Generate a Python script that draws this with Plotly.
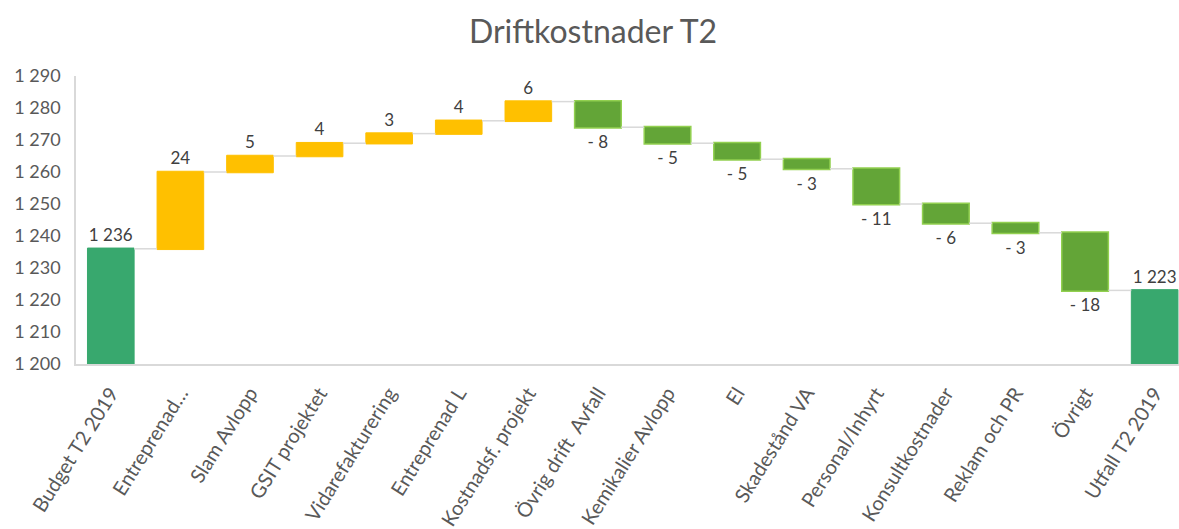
import plotly.graph_objects as go

categories = ["Budget T2 2019", "Entreprenad…", "Slam Avlopp", "GSIT projektet",
              "Vidarefakturering", "Entreprenad L", "Kostnadsf. projekt",
              "Övrig drift\u00a0 Avfall", "Kemikalier Avlopp", "El", "Skadestånd VA",
              "Personal/Inhyrt", "Konsultkostnader", "Reklam och PR", "Övrigt",
              "Utfall T2 2019"]
values = [1236, 24, 5, 4, 3, 4, 6, -8, -5, -5, -3, -11, -6, -3, -18, 1223]
measures = ["absolute"] + ["relative"] * 14 + ["total"]
labels = ["1 236", "24", "5", "4", "3", "4", "6", "- 8", "- 5", "- 5", "- 3",
          "- 11", "- 6", "- 3", "- 18", "1 223"]
y_ticks = list(range(1200, 1291, 10))

FONT = "Lato, 'Open Sans', sans-serif"

fig = go.Figure(go.Waterfall(
    x=categories,
    y=values,
    measure=measures,
    text=labels,
    textposition="outside",
    textfont=dict(family=FONT, size=17, color="#404040"),
    cliponaxis=False,
    increasing=dict(marker=dict(color="#FFC000", line=dict(color="#FFC000", width=1))),
    decreasing=dict(marker=dict(color="#63A537", line=dict(color="#92D050", width=1.5))),
    totals=dict(marker=dict(color="#38A86E", line=dict(color="#38A86E", width=1))),
    connector=dict(line=dict(color="#D9D9D9", width=1.5)),
    hoverinfo="x+y",
))

fig.update_layout(
    width=1179, height=529,
    margin=dict(l=76, r=0, t=76, b=165, autoexpand=False),
    paper_bgcolor="white", plot_bgcolor="white",
    separators=", ",
    waterfallgap=0.33,
    showlegend=False,
    title=dict(text="Driftkostnader T2", x=0.503, xanchor="center", y=0.94, yanchor="middle",
               font=dict(family=FONT, size=32, color="#595959")),
    font=dict(family=FONT, color="#595959"),
)
fig.update_xaxes(
    range=[-0.5, 15.35],
    tickangle=-58,
    tickfont=dict(family=FONT, size=20, color="#595959"),
    showline=True, linecolor="#D9D9D9", linewidth=1.5,
    showgrid=False, ticks="", automargin=False,
    ticklabelstandoff=8,
)
fig.update_yaxes(
    range=[1200, 1290],
    tickvals=y_ticks,
    tickformat=",d",
    tickfont=dict(family=FONT, size=18, color="#595959"),
    showline=True, linecolor="#D9D9D9", linewidth=1.5,
    showgrid=False, zeroline=False, automargin=False,
    ticks="outside", ticklen=10, tickcolor="white",
)

fig.write_html("out.html", config={"displayModeBar": False},
               post_script="document.body.style.margin='0px';document.body.style.overflow='hidden';")
